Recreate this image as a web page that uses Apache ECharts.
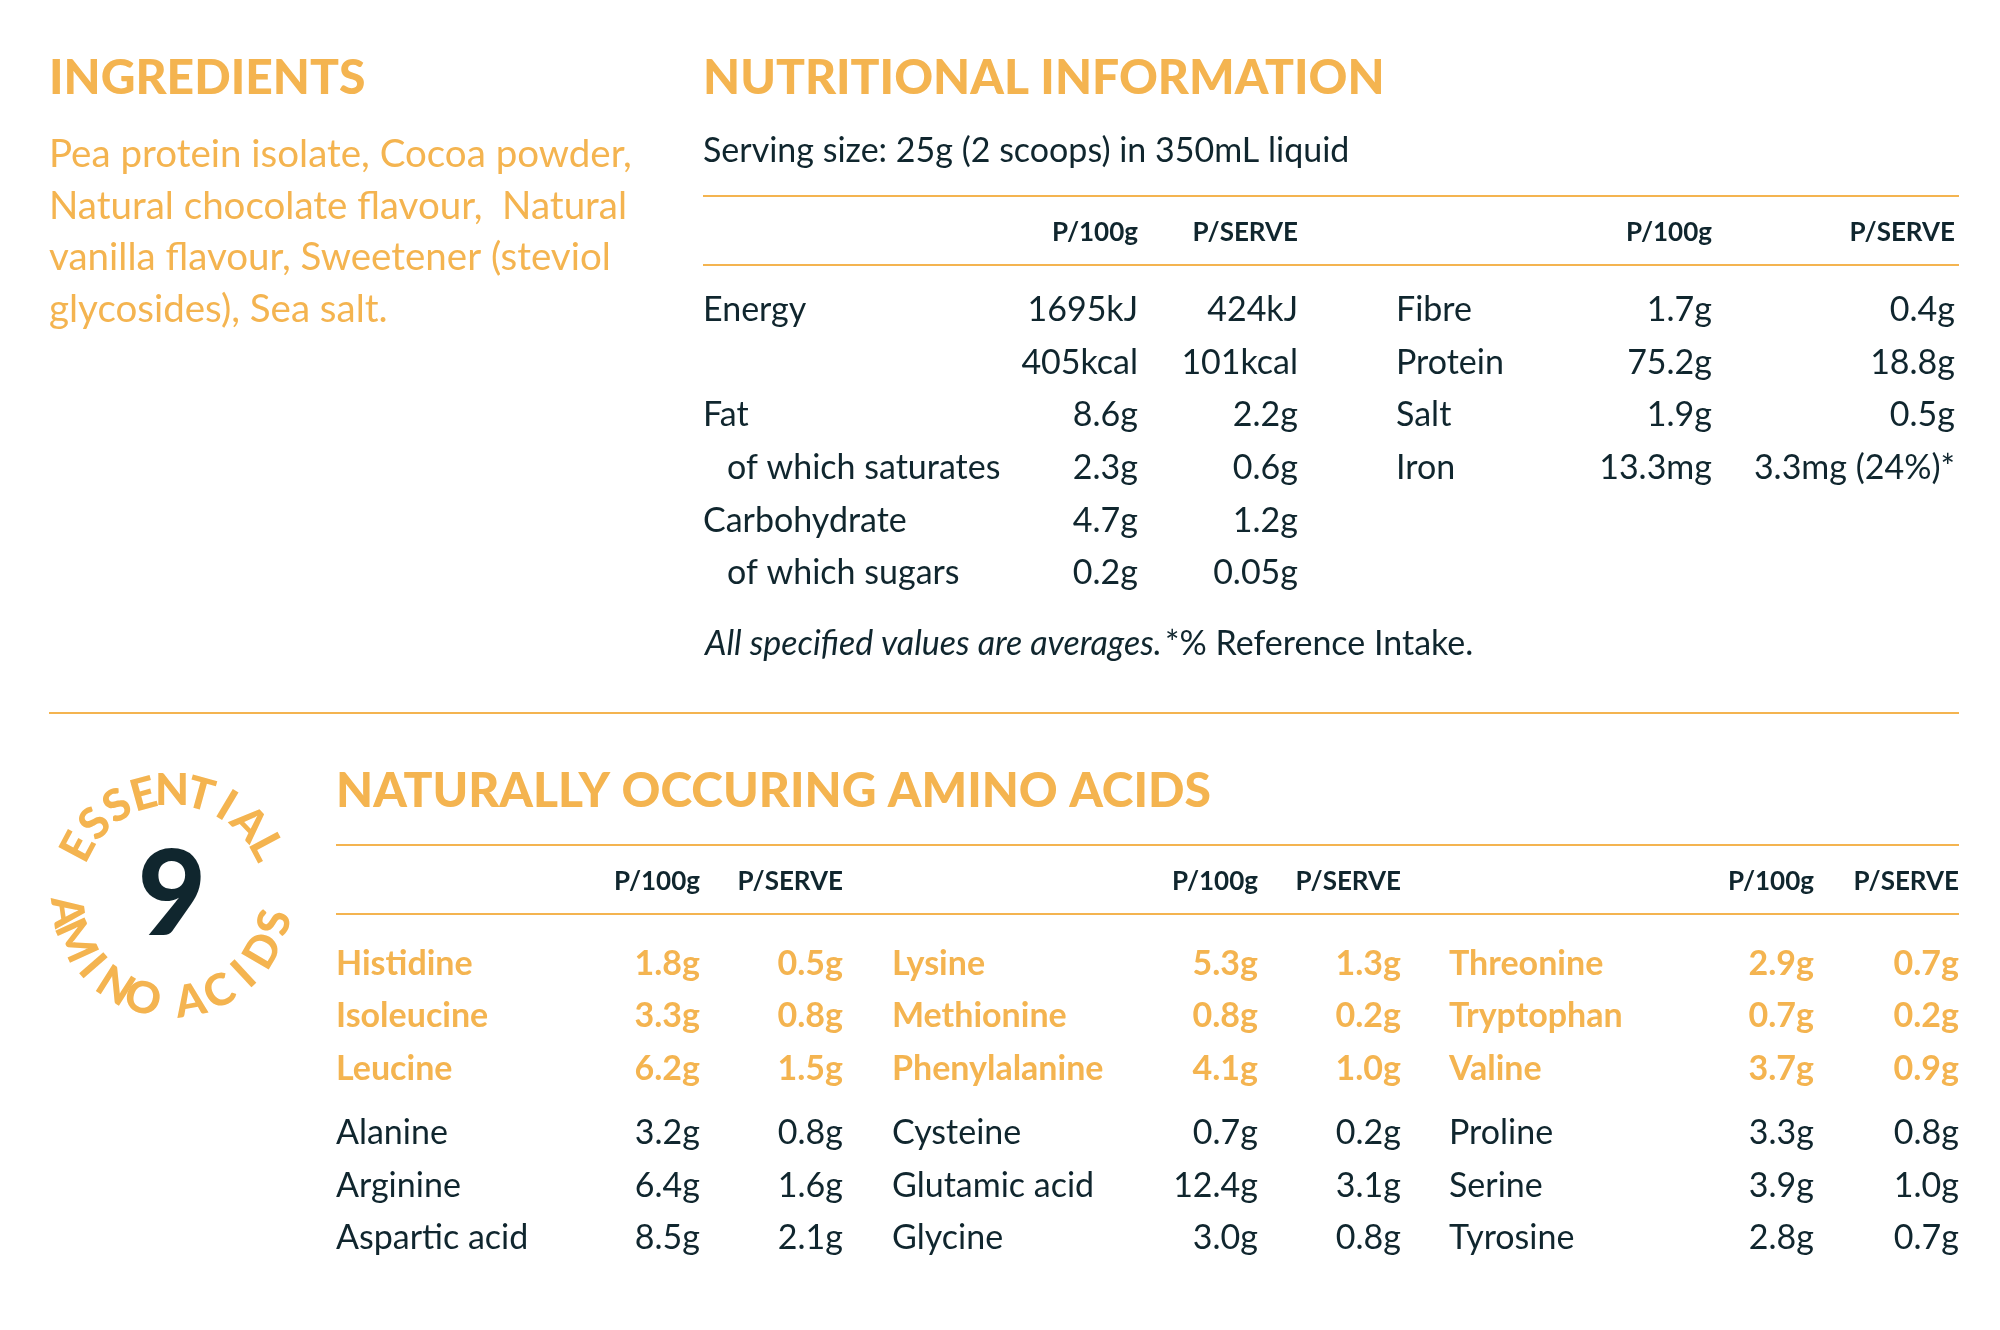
<!DOCTYPE html>
<html><head><meta charset="utf-8">
<script src="https://cdn.jsdelivr.net/npm/echarts@6/dist/echarts.min.js"></script>
<style>html,body{margin:0;padding:0;background:#fff}#c{width:2000px;height:1330px}</style>
</head><body><div id="c"></div>
<script>
const ingredientsLines = ["Pea protein isolate, Cocoa powder,","Natural chocolate flavour,  Natural","vanilla flavour, Sweetener (steviol","glycosides), Sea salt."];
const nutLabels = ["Energy","","Fat","of which saturates","Carbohydrate","of which sugars"];
const nutIndent = [0,0,0,1,0,1];
const nutPer100 = ["1695kJ","405kcal","8.6g","2.3g","4.7g","0.2g"];
const nutPerServe = ["424kJ","101kcal","2.2g","0.6g","1.2g","0.05g"];
const nut2Labels = ["Fibre","Protein","Salt","Iron"];
const nut2Per100 = ["1.7g","75.2g","1.9g","13.3mg"];
const nut2PerServe = ["0.4g","18.8g","0.5g","3.3mg (24%)*"];
const aminoCols = [
  {names:["Histidine","Isoleucine","Leucine","Alanine","Arginine","Aspartic acid"],p100:["1.8g","3.3g","6.2g","3.2g","6.4g","8.5g"],ps:["0.5g","0.8g","1.5g","0.8g","1.6g","2.1g"]},
  {names:["Lysine","Methionine","Phenylalanine","Cysteine","Glutamic acid","Glycine"],p100:["5.3g","0.8g","4.1g","0.7g","12.4g","3.0g"],ps:["1.3g","0.2g","1.0g","0.2g","3.1g","0.8g"]},
  {names:["Threonine","Tryptophan","Valine","Proline","Serine","Tyrosine"],p100:["2.9g","0.7g","3.7g","3.3g","3.9g","2.8g"],ps:["0.7g","0.2g","0.9g","0.8g","1.0g","0.7g"]}
];
const badgeTop="ESSENTIAL", badgeBottom="AMINO ACIDS", badgeNumber="9";
const ORANGE="#F4B450", DARK="#10262e", FONT="Lato";
const g=[];
function T(x,y,text,o){o=o||{};g.push({type:'text',x:x,y:y,rotation:o.rot||0,style:{text:text,fill:o.fill||DARK,font:(o.style||'normal')+' '+(o.w||'normal')+' '+(o.size||34)+'px '+FONT,textAlign:o.align||'left',textVerticalAlign:'middle'}});}
function L(x1,x2,y){g.push({type:'line',shape:{x1:x1,y1:y,x2:x2,y2:y},style:{stroke:ORANGE,lineWidth:2}});}
T(49,79,"INGREDIENTS",{fill:ORANGE,w:'900',size:48});
ingredientsLines.forEach((s,i)=>T(49,155+i*51.5,s,{fill:ORANGE,size:38.5}));
T(703,79,"NUTRITIONAL INFORMATION",{fill:ORANGE,w:'900',size:48});
T(703,151,"Serving size: 25g (2 scoops) in 350mL liquid",{size:34});
L(703,1959,196);L(703,1959,265);
[[1138,"P/100g"],[1298,"P/SERVE"],[1712,"P/100g"],[1955,"P/SERVE"]].forEach(h=>T(h[0],233,h[1],{w:'bold',size:26,align:'right'}));
const rowY=i=>310+i*52.7;
nutLabels.forEach((s,i)=>{ if(s) T(nutIndent[i]?727:703,rowY(i),s,{size:34}); T(1138,rowY(i),nutPer100[i],{size:34,align:'right'}); T(1298,rowY(i),nutPerServe[i],{size:34,align:'right'});});
nut2Labels.forEach((s,i)=>{T(1396,rowY(i),s,{size:34}); T(1712,rowY(i),nut2Per100[i],{size:34,align:'right'}); T(1955,rowY(i),nut2PerServe[i],{size:34,align:'right'});});
g.push({type:'text',x:705,y:644,style:{rich:{i:{fontStyle:'italic',fontSize:34,fontFamily:FONT,fill:DARK},n:{fontSize:34,fontFamily:FONT,fill:DARK}},text:'{i|All specified values are averages.} {n|*% Reference Intake.}',textVerticalAlign:'middle'}});
L(49,1959,713);
T(336,792,"NATURALLY OCCURING AMINO ACIDS",{fill:ORANGE,w:'900',size:48});
L(336,1959,845);L(336,1959,914);
const aminoRowY=[964,1016,1069,1133,1186,1238];
const colX=[[336,700,843],[892,1258,1401],[1449,1814,1959]];
aminoCols.forEach((c,ci)=>{
  const [nx,ax,bx]=colX[ci];
  T(ax,882,"P/100g",{w:'bold',size:26,align:'right'});T(bx,882,"P/SERVE",{w:'bold',size:26,align:'right'});
  c.names.forEach((n,i)=>{const ess=i<3;const fill=ess?ORANGE:DARK;const w=ess?'bold':'normal';
    T(nx,aminoRowY[i],n,{fill:fill,w:w,size:34});T(ax,aminoRowY[i],c.p100[i],{fill:fill,w:w,size:34,align:'right'});T(bx,aminoRowY[i],c.ps[i],{fill:fill,w:w,size:34,align:'right'});});
});
const cx=172,cy=897,r=106;
T(cx,cy,badgeNumber,{w:'900',size:118,align:'center'});
[...badgeTop].forEach((ch,i)=>{const th=(-152+i*15.5)*Math.PI/180;T(cx+r*Math.cos(th),cy+r*Math.sin(th),ch,{fill:ORANGE,w:'900',size:44,align:'center',rot:-(th+Math.PI/2)});});
let ang=172;
[...badgeBottom].forEach((ch,i)=>{ if(i>0) ang -= (ch===' '||badgeBottom[i-1]===' ')?13:16.5; if(ch===' ') return; const th=ang*Math.PI/180;T(cx+r*Math.cos(th),cy+r*Math.sin(th),ch,{fill:ORANGE,w:'900',size:44,align:'center',rot:-(th-Math.PI/2)});});
const chart=echarts.init(document.getElementById('c'));
chart.setOption({animation:false,graphic:{elements:g}});
</script></body></html>
